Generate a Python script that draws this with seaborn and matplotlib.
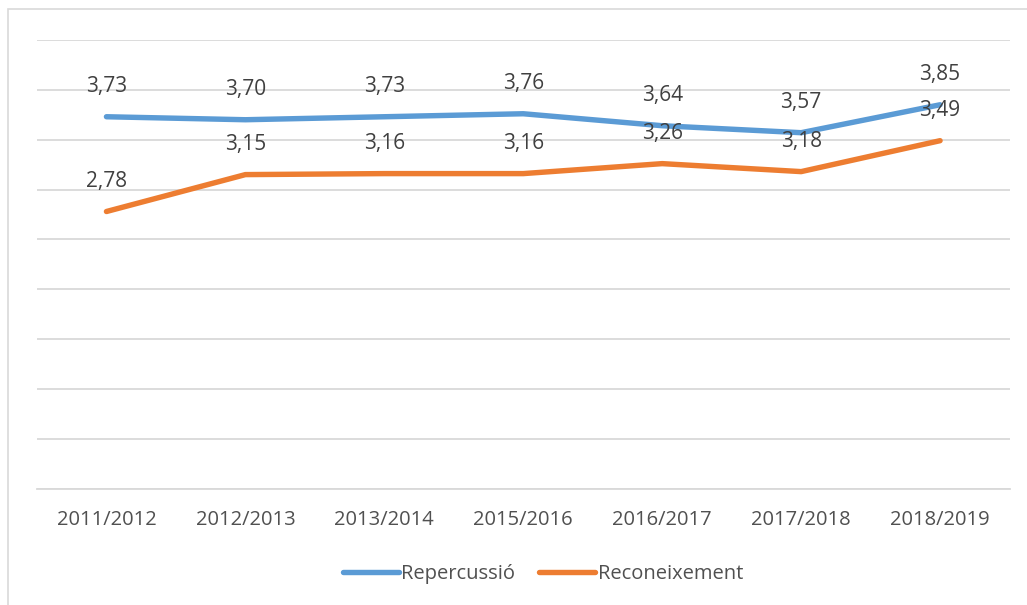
import numpy as np
import pandas as pd
import matplotlib.pyplot as plt
import matplotlib.patches as mpatches
import seaborn as sns

# Data
CURSOS = ["2011/2012", "2012/2013", "2013/2014", "2015/2016",
          "2016/2017", "2017/2018", "2018/2019"]
REPERCUSSIO = [3.73, 3.70, 3.73, 3.76, 3.64, 3.57, 3.85]
RECONEIXEMENT = [2.78, 3.15, 3.16, 3.16, 3.26, 3.18, 3.49]
SERIES = ["Repercussió", "Reconeixement"]
Y_TICKS = [0, 0.5, 1, 1.5, 2, 2.5, 3, 3.5, 4, 4.5]

COLORS = ["#5B9BD5", "#ED7D31"]
GRID = "#D9D9D9"
TEXT = "#404040"

df = pd.DataFrame({
    "curs": CURSOS * 2,
    "valor": REPERCUSSIO + RECONEIXEMENT,
    "serie": [SERIES[0]] * len(CURSOS) + [SERIES[1]] * len(CURSOS),
})

sns.set_style("white")
plt.rcParams["font.family"] = ["Open Sans", "DejaVu Sans"]

fig = plt.figure(figsize=(10.27, 6.05), dpi=100)
ax = fig.add_axes([0.036, 0.192, 0.947, 0.742])

# outer chart frame like the Excel chart area
fig.patches.append(mpatches.Rectangle((8 / 1027, -0.05), 1.2, 1 - 9 / 605 + 0.05,
                                      transform=fig.transFigure, fill=False,
                                      edgecolor=GRID, linewidth=1.2))

sns.lineplot(data=df, x="curs", y="valor", hue="serie", palette=COLORS,
             linewidth=3.9, sort=False, ax=ax, legend=True)

# value labels above each point
for vals in (REPERCUSSIO, RECONEIXEMENT):
    for i, v in enumerate(vals):
        ax.annotate(f"{v:.2f}".replace(".", ","), (i, v),
                    xytext=(0, 21.5), textcoords="offset points",
                    ha="center", va="center", fontsize=15, color=TEXT)

ax.set_xlim(-0.5, len(CURSOS) - 0.5)
ax.set_ylim(Y_TICKS[0], Y_TICKS[-1])
ax.set_yticks(Y_TICKS)
ax.yaxis.grid(True, color=GRID, linewidth=1.3)
ax.set_axisbelow(True)
ax.tick_params(axis="y", left=False, labelleft=False)
ax.tick_params(axis="x", bottom=False, labelsize=14.5, labelcolor="#505050", pad=12)
for side in ["top", "left", "right"]:
    ax.spines[side].set_visible(False)
ax.spines["bottom"].set_color(GRID)
ax.spines["bottom"].set_linewidth(1.3)
ax.set_xlabel("")
ax.set_ylabel("")

handles, labels = ax.get_legend_handles_labels()
ax.legend(handles, labels, loc="center", bbox_to_anchor=(0.52, -0.19),
          ncol=2, frameon=False, fontsize=14.5, handlelength=2.8,
          handletextpad=0.1, columnspacing=1.2, labelcolor="#505050")

fig.savefig("out.png", dpi=100)
